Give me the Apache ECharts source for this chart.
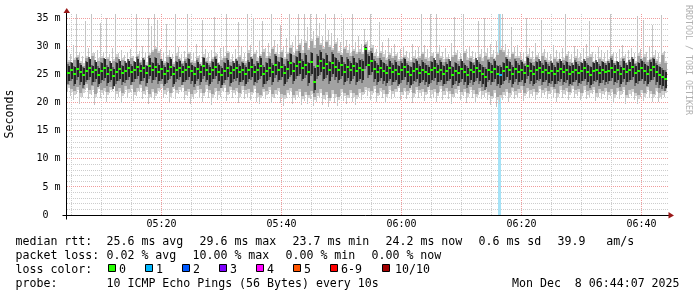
<!DOCTYPE html>
<html><head><meta charset="utf-8">
<script src="https://cdn.jsdelivr.net/npm/echarts@6/dist/echarts.min.js"></script>
<style>html,body{margin:0;padding:0;background:#fff}#c{width:697px;height:297px}</style>
</head><body><div id="c"></div>
<script>
// ---- time layout of the samples ----
const startTime = '05:04:35';
const stepSeconds = 30;
const axisStart = '05:04:20';
const axisEnd = '06:44:40';
const yMaxMs = 35.8;

// ---- ping data (ms), one value per 30 s column ----
const rttMax = [
29.5,28.7,30.2,35.8,29.1,28.4,34.6,29.8,35.8,28.9,29.4,34.2,29.0,35.1,28.6,29.7,35.8,28.8,29.3,28.5,
29.0,29.6,28.4,35.8,29.2,30.1,28.8,35.0,33.6,35.8,34.8,29.5,28.9,34.0,29.3,28.7,35.8,29.9,28.6,29.2,
35.8,29.1,28.8,30.4,28.5,34.7,29.6,28.9,29.3,35.2,28.7,29.8,30.0,35.8,29.0,28.6,29.5,34.3,29.9,28.8,
35.8,30.2,35.0,29.4,31.0,34.6,29.8,30.6,35.8,31.2,30.4,33.8,29.9,31.5,35.8,30.8,32.0,35.8,31.4,35.8,
33.5,35.8,32.8,35.8,34.2,31.8,35.8,33.0,32.4,35.8,31.6,30.8,34.9,31.2,30.5,35.8,30.9,31.8,30.4,33.2,
31.0,35.8,30.2,29.6,34.4,30.8,29.3,31.5,29.8,30.4,28.9,29.6,30.1,29.2,28.8,30.5,29.4,29.9,35.8,30.2,
29.5,35.8,29.0,35.8,30.3,29.1,29.8,28.7,30.6,35.2,29.4,28.9,35.8,29.6,30.0,29.2,28.8,34.6,29.5,35.0,
29.8,30.5,29.3,31.0,35.8,35.8,30.4,29.6,33.5,29.9,30.2,29.1,28.8,35.0,29.7,29.2,30.6,28.9,34.8,29.5,
29.1,28.7,30.3,29.4,28.9,29.8,35.8,29.2,28.6,30.1,29.5,28.8,29.7,30.4,34.5,29.0,28.7,29.9,29.3,28.8,
29.4,35.8,29.0,28.8,29.6,30.2,28.7,29.3,29.8,28.9,35.4,29.5,34.8,29.1,30.0,33.9,29.4,28.8,35.6,29.2];
const rttMin = [
22.0,21.2,20.4,21.6,19.8,21.0,22.2,20.6,21.4,19.6,21.8,20.9,21.3,20.2,21.7,22.1,20.5,21.0,19.9,21.5,
20.8,21.9,20.3,21.2,22.0,20.6,21.4,19.7,21.1,20.4,21.6,22.2,20.9,21.3,20.1,21.8,20.7,21.5,22.0,20.4,
21.2,19.8,20.6,21.7,21.0,20.2,21.9,20.8,19.6,21.4,20.5,21.1,22.0,20.3,21.6,20.9,21.3,19.9,21.5,20.7,
21.0,20.4,21.8,20.1,19.7,21.2,20.6,21.5,19.9,20.8,21.3,20.0,19.5,20.9,21.4,19.8,20.5,21.1,19.6,20.3,
19.8,20.6,19.4,20.2,21.0,19.6,20.4,19.2,20.8,20.0,19.5,21.2,20.3,19.7,20.9,20.1,19.6,21.0,20.4,21.5,
21.2,20.5,21.8,20.2,21.4,20.8,19.9,21.6,20.7,21.1,22.0,20.4,21.3,20.6,21.7,20.0,21.5,20.9,21.2,20.3,
21.6,20.8,21.1,20.2,21.9,20.5,21.3,20.7,19.8,21.0,21.6,20.4,21.2,20.0,21.5,20.8,19.9,21.3,20.6,21.1,
20.4,19.6,20.8,19.3,19.8,20.5,21.2,20.1,21.4,20.6,21.0,21.7,20.3,21.5,20.8,21.2,20.5,21.8,20.9,21.3,
20.7,21.5,21.1,20.2,21.6,20.9,21.3,20.5,21.8,20.8,21.2,20.4,21.7,20.6,21.0,21.5,20.3,21.1,20.7,21.4,
20.5,21.2,20.0,21.3,20.6,21.5,19.8,20.9,21.2,20.4,19.7,21.0,20.3,21.5,20.8,20.1,21.3,20.2,20.6,21.1];
const smokeHigh = [
27.2,26.8,27.6,28.1,27.0,26.6,27.9,27.3,28.4,26.9,27.5,28.0,27.1,27.8,26.7,27.4,28.2,27.0,27.6,26.8,
27.3,27.9,26.9,28.3,27.2,27.7,26.8,28.5,29.0,29.6,28.8,27.4,27.0,28.1,27.5,26.9,28.4,27.6,27.1,27.8,
28.6,27.2,27.0,27.9,26.8,28.2,27.5,27.1,27.7,28.4,26.9,27.6,27.9,28.8,27.3,27.0,27.6,28.1,27.4,27.0,
28.9,28.0,28.6,27.5,28.3,29.1,27.9,28.4,29.5,28.7,28.2,29.0,27.8,28.6,29.8,28.5,29.2,30.2,28.9,30.6,
29.4,31.0,29.8,31.5,30.2,29.5,30.8,29.9,29.3,30.4,28.8,28.5,29.6,28.9,28.4,29.2,28.6,29.1,28.7,30.5,
29.0,29.8,28.4,27.9,28.8,28.2,27.6,28.5,27.9,28.3,27.4,27.8,28.1,27.5,27.2,28.0,27.6,27.9,28.6,27.8,
27.5,28.4,27.2,28.6,27.9,27.3,27.7,27.0,28.1,28.5,27.4,27.1,28.8,27.6,27.9,27.3,27.0,28.2,27.5,28.4,
27.8,28.2,27.6,28.5,29.4,29.0,28.1,27.7,28.6,27.9,28.0,27.4,27.1,28.3,27.7,27.3,28.1,27.0,28.4,27.6,
27.2,26.9,27.8,27.4,27.0,27.6,28.3,27.3,26.8,27.9,27.5,27.0,27.4,28.0,28.2,27.1,26.8,27.7,27.3,27.0,
27.4,28.3,27.1,26.9,27.5,28.0,26.8,27.3,27.7,27.0,28.4,27.6,28.2,27.2,27.8,28.1,27.4,26.9,28.5,27.1];
const smokeLow = [
23.2,22.5,22.0,22.8,21.7,22.4,23.3,22.2,22.9,21.6,23.0,22.3,22.7,21.9,22.8,23.4,22.1,22.6,21.8,22.9,
22.4,23.1,21.9,22.6,23.2,22.1,22.8,21.6,22.5,21.8,22.7,23.3,22.2,22.6,21.7,23.0,22.3,22.8,23.2,22.0,
22.5,21.6,22.2,22.9,22.4,21.8,23.1,22.3,21.5,22.7,22.0,22.6,23.2,21.9,22.8,22.3,22.6,21.7,22.9,22.2,
22.4,21.9,23.0,21.7,21.4,22.5,22.0,22.8,21.6,22.2,22.7,21.5,21.3,22.3,22.6,21.4,22.0,22.5,21.2,21.9,
21.4,22.1,21.0,21.8,22.4,21.3,21.9,20.9,22.2,21.6,21.1,22.5,21.8,21.4,22.3,21.7,21.3,22.4,21.9,22.8,
22.6,22.0,23.0,21.8,22.7,22.2,21.6,22.9,22.1,22.5,23.2,21.9,22.6,22.0,22.9,21.7,22.8,22.3,22.5,21.9,
22.9,22.2,22.5,21.8,23.0,22.0,22.6,22.1,21.6,22.4,22.9,21.9,22.5,21.7,22.8,22.2,21.6,22.6,22.0,22.4,
21.9,21.2,22.3,21.0,21.4,21.9,22.5,21.7,22.6,22.0,22.4,22.9,21.8,22.7,22.2,22.5,21.9,23.0,22.3,22.6,
22.1,22.8,22.4,21.7,22.9,22.2,22.6,21.9,23.0,22.2,22.5,21.8,22.9,22.0,22.3,22.8,21.7,22.4,22.1,22.7,
21.9,22.5,21.5,22.6,22.0,22.8,21.4,22.2,22.5,21.8,21.3,22.3,21.7,22.8,22.1,21.6,22.6,21.7,22.0,22.4];
const coreHigh = [
26.6,27.0,26.3,27.6,26.8,26.1,27.2,27.8,26.5,27.3,26.2,27.0,27.7,26.4,27.1,26.0,27.0,27.4,26.5,27.1,
27.5,26.6,27.2,27.8,26.8,27.6,26.5,28.0,27.0,27.9,26.7,27.4,26.4,27.0,27.8,26.3,27.2,27.5,26.6,27.1,
27.7,26.8,26.3,27.3,26.6,27.9,27.0,26.4,27.2,27.8,26.7,26.2,27.0,27.6,26.5,27.1,27.4,26.6,27.0,26.4,
27.3,27.8,26.6,27.1,28.0,26.4,27.0,27.7,26.8,28.4,27.2,27.9,26.6,27.4,28.6,27.0,28.1,28.9,27.5,28.5,
27.0,28.8,26.2,28.3,29.0,27.7,28.5,27.2,28.7,27.9,27.3,28.2,26.9,27.8,27.1,28.0,27.0,27.6,27.4,30.0,
28.4,28.9,27.4,26.8,27.6,27.0,26.6,27.5,26.8,27.3,26.5,27.1,27.7,26.7,26.3,27.0,27.4,26.6,27.3,26.8,
26.4,27.2,27.6,26.7,27.3,26.5,26.9,27.5,26.3,27.0,26.6,27.4,26.8,26.2,27.2,26.7,27.6,26.9,26.4,26.0,
27.3,26.7,27.4,26.5,26.4,27.0,27.8,27.2,26.4,27.4,26.8,27.3,26.6,27.9,27.0,26.5,27.2,27.5,26.7,27.3,
26.6,27.1,26.4,27.0,27.4,26.7,27.2,26.5,26.8,27.3,26.6,27.0,27.5,26.8,26.3,27.0,27.3,26.6,27.2,26.7,
27.1,27.6,26.7,27.2,26.4,27.4,26.8,27.3,27.8,26.6,27.0,27.5,26.9,26.5,27.3,27.7,26.7,26.3,25.9,25.5];
const coreLow = [
23.8,24.3,23.4,24.5,23.6,23.2,24.1,24.6,23.7,24.2,23.3,24.0,24.4,23.5,24.1,23.0,23.9,24.3,23.6,24.0,
24.5,23.7,24.2,24.7,23.9,24.4,23.5,24.8,24.0,24.6,23.8,24.3,23.4,24.0,24.7,23.3,24.2,24.5,23.7,24.1,
24.6,23.9,23.3,24.3,23.6,24.8,24.1,23.4,24.2,24.7,23.8,23.2,24.0,24.5,23.5,24.2,24.4,23.6,24.1,23.4,
24.2,24.6,23.6,24.0,24.8,23.3,23.9,24.5,23.7,24.9,24.1,24.6,23.4,24.2,25.0,23.8,24.7,25.2,24.3,24.9,
23.5,25.2,22.3,24.7,25.5,24.3,24.9,23.9,25.1,24.5,24.0,24.8,23.6,24.4,23.9,24.7,23.7,24.3,24.0,26.5,
24.9,25.4,24.2,23.6,24.4,23.9,23.5,24.3,23.7,24.1,23.4,24.0,24.5,23.6,23.2,23.9,24.2,23.5,24.1,23.7,
23.3,24.0,24.4,23.6,24.1,23.4,23.8,24.3,23.2,23.9,23.5,24.2,23.7,23.1,24.0,23.6,24.4,23.8,23.3,22.8,
24.1,23.6,24.2,23.4,23.1,23.8,24.5,24.0,23.3,24.2,23.7,24.1,23.5,24.7,23.9,23.4,24.0,24.3,23.6,24.1,
23.5,23.9,23.3,23.8,24.2,23.6,24.0,23.4,23.7,24.1,23.5,23.9,24.3,23.7,23.2,23.8,24.1,23.5,24.0,23.6,
23.9,24.4,23.6,24.0,23.3,24.2,23.7,24.1,24.6,23.5,23.9,24.3,23.8,23.4,24.1,24.5,23.6,23.2,22.9,22.6];
const medianRtt = [
25.3,25.8,25.1,26.0,25.5,24.9,25.7,26.2,25.4,25.9,25.0,25.6,26.1,25.2,25.8,24.8,25.5,26.0,25.3,25.7,
26.2,25.4,25.9,26.4,25.6,26.1,25.3,26.5,25.8,26.3,25.5,26.0,25.2,25.7,26.4,25.1,25.9,26.2,25.4,25.8,
26.3,25.6,25.1,26.0,25.4,26.5,25.8,25.2,25.9,26.4,25.5,25.0,25.7,26.2,25.3,25.9,26.1,25.4,25.8,25.2,
25.9,26.3,25.4,25.8,26.6,25.1,25.7,26.2,25.5,26.8,25.9,26.4,25.3,26.0,27.0,25.6,26.5,27.2,26.1,26.8,
25.4,27.3,23.7,26.6,27.5,26.2,26.9,25.8,27.1,26.4,25.9,26.7,25.5,26.3,25.8,26.6,25.6,26.2,25.9,29.6,
26.8,27.4,26.0,25.4,26.2,25.7,25.3,26.1,25.5,25.9,25.2,25.8,26.3,25.4,25.0,25.7,26.0,25.3,25.9,25.5,
25.1,25.8,26.2,25.4,25.9,25.2,25.6,26.1,25.0,25.7,25.3,26.0,25.5,24.9,25.8,25.4,26.2,25.6,25.1,24.5,
25.9,25.4,26.0,25.2,24.9,25.6,26.3,25.8,25.1,26.0,25.5,25.9,25.3,26.5,25.7,25.2,25.8,26.1,25.4,25.9,
25.3,25.7,25.1,25.6,26.0,25.4,25.8,25.2,25.5,25.9,25.3,25.7,26.1,25.5,25.0,25.6,25.9,25.3,25.8,25.4,
25.7,26.2,25.4,25.8,25.1,26.0,25.5,25.9,26.4,25.3,25.7,26.1,25.6,25.2,25.9,26.3,25.4,25.0,24.6,24.2];
// [column index, pings lost out of 10]
const lossPoints = [[144, 1]];

// ---- axis ticks ----
const xTickLabels = ['05:20', '05:40', '06:00', '06:20', '06:40'];
const yTickValues = [0, 5, 10, 15, 20, 25, 30, 35];
const yTickLabels = ['0  ', '5 m', '10 m', '15 m', '20 m', '25 m', '30 m', '35 m'];

// ---- legend texts ----
const rttStats = ['25.6 ms avg', '29.6 ms max', '23.7 ms min', '24.2 ms now', '0.6 ms sd', '39.9   am/s'];
const lossStats = ['0.02 % avg', '10.00 % max', '0.00 % min', '0.00 % now'];
const lossLabels = ['0', '1', '2', '3', '4', '5', '6-9', '10/10'];
const lossColors = ['#26ff00', '#00b8ff', '#0059ff', '#7e00ff', '#ff00ff', '#ff5500', '#ff0000', '#a10000'];
const probeText = '10 ICMP Echo Pings (56 Bytes) every 10s';
const dateText = 'Mon Dec  8 06:44:07 2025';

// ---------------------------------------------------------------
function hms(s) { const p = s.split(':').map(Number); return p[0] * 3600 + p[1] * 60 + (p[2] || 0); }
const t0 = hms(startTime);
const xMin = hms(axisStart), xMax = hms(axisEnd);
const lossByIdx = {}; lossPoints.forEach(([i, n]) => { lossByIdx[i] = n; });
const rows = medianRtt.map((m, i) => [t0 + i * stepSeconds, rttMin[i], rttMax[i], smokeLow[i], smokeHigh[i], coreLow[i], coreHigh[i], m, lossByIdx[i] || 0]);
const lossRows = rows.filter(r => r[8] > 0);
function lossColor(n) { if (n <= 5) return lossColors[n]; if (n < 10) return lossColors[6]; return lossColors[7]; }

const xMajor = xTickLabels.map(hms);
const xMinor = []; for (let t = Math.ceil(xMin / 300) * 300; t <= xMax; t += 300) if (t % 1200 !== 0) xMinor.push(t);
const yMinor = []; for (let v = 1; v < 36; v++) if (v % 5 !== 0) yMinor.push(v);

const MONO = '"DejaVu Sans Mono", monospace';
const MINOR = '#cdcdcd', MAJOR = '#f09c9c', ARROW = '#9a1818';
const px = v => Math.floor(v) + 0.5;

function gridRender(params, api) {
  const ch = [];
  const left = api.coord([xMin, 0])[0], right = api.coord([xMax, 0])[0];
  const bottom = api.coord([xMin, 0])[1], top = api.coord([xMin, yMaxMs])[1];
  yMinor.forEach(v => { const y = px(api.coord([xMin, v])[1]);
    ch.push({ type: 'line', shape: { x1: left, y1: y, x2: right, y2: y }, style: { stroke: MINOR, lineWidth: 1, lineDash: [1, 1] } }); });
  xMinor.forEach(t => { const x = px(api.coord([t, 0])[0]);
    ch.push({ type: 'line', shape: { x1: x, y1: top, x2: x, y2: bottom }, style: { stroke: MINOR, lineWidth: 1, lineDash: [1, 1] } }); });
  yTickValues.forEach(v => { if (v === 0) return; const y = px(api.coord([xMin, v])[1]);
    ch.push({ type: 'line', shape: { x1: left, y1: y, x2: right, y2: y }, style: { stroke: MAJOR, lineWidth: 1, lineDash: [1, 1] } }); });
  xMajor.forEach(t => { const x = px(api.coord([t, 0])[0]);
    ch.push({ type: 'line', shape: { x1: x, y1: top, x2: x, y2: bottom }, style: { stroke: MAJOR, lineWidth: 1, lineDash: [1, 1] } }); });
  return { type: 'group', children: ch };
}

function axesRender(params, api) {
  const ch = [];
  const left = api.coord([xMin, 0])[0], right = api.coord([xMax, 0])[0];
  const bottom = api.coord([xMin, 0])[1], top = api.coord([xMin, yMaxMs])[1];
  const ax = px(left - 1), ay = px(bottom);
  ch.push({ type: 'line', shape: { x1: ax - 4, y1: ay, x2: right, y2: ay }, style: { stroke: '#000', lineWidth: 1 } });
  ch.push({ type: 'line', shape: { x1: ax, y1: ay + 4, x2: ax, y2: top - 2 }, style: { stroke: '#000', lineWidth: 1 } });
  ch.push({ type: 'polygon', shape: { points: [[ax - 3, top - 1], [ax + 3.5, top - 1], [ax + 0.25, top - 6]] }, style: { fill: ARROW } });
  ch.push({ type: 'polygon', shape: { points: [[right - 0.5, ay - 3.5], [right - 0.5, ay + 3], [right + 5, ay]] }, style: { fill: ARROW } });
  yTickValues.forEach((v, i) => { const y = api.coord([xMin, v])[1];
    ch.push({ type: 'text', style: { x: left - 6.5, y: y, text: yTickLabels[i], font: '10px ' + MONO, fill: '#000', align: 'right', verticalAlign: 'middle' } }); });
  xMajor.forEach((t, i) => { const x = api.coord([t, 0])[0];
    ch.push({ type: 'text', style: { x: x + 0.5, y: bottom + 9.5, text: xTickLabels[i], font: '10px ' + MONO, fill: '#000', align: 'center', verticalAlign: 'middle' } }); });
  return { type: 'group', children: ch };
}

function colBounds(api, t) {
  return [Math.round(api.coord([t - stepSeconds / 2, 0])[0]), Math.round(api.coord([t + stepSeconds / 2, 0])[0])];
}
function band(api, x, w, t, lo, hi, color) {
  const y1 = Math.round(api.coord([t, hi])[1]), y2 = Math.round(api.coord([t, lo])[1]);
  return { type: 'rect', shape: { x: x, y: y1, width: w, height: Math.max(1, y2 - y1) }, style: { fill: color } };
}
// smoke: extremes drawn as thin hair lines, inner quantiles wider and darker
function smokeRender(params, api) {
  const t = api.value(0); const [xl, xr] = colBounds(api, t);
  const w = xr - xl;
  return { type: 'group', children: [
    band(api, xl, 1, t, api.value(1), api.value(2), '#c4c4c4'),
    band(api, xl + 1, w - 1, t, api.value(3) - 0.6, api.value(4) + 0.4, '#d2d2d2'),
    band(api, xl, w, t, api.value(3), api.value(4), '#a2a2a2'),
    band(api, xl, 2, t, api.value(5) - 0.5, api.value(6) + 0.3, '#6a6a6a'),
    band(api, xl + 1, w - 1, t, api.value(5), api.value(6), '#262626')
  ] };
}
function medianRender(params, api) {
  const t = api.value(0); const [xl, xr] = colBounds(api, t);
  const y = Math.round(api.coord([t, api.value(7)])[1]);
  return { type: 'rect', shape: { x: xl, y: y - 1, width: xr - xl, height: 2 }, style: { fill: lossColor(api.value(8)) } };
}
function lossRender(params, api) {
  const t = api.value(0); const [xl, xr] = colBounds(api, t);
  const y1 = api.coord([t, yMaxMs])[1], y2 = api.coord([t, 0])[1];
  return { type: 'rect', shape: { x: xl - 1, y: y1, width: xr - xl, height: y2 - y1 }, style: { fill: '#a6e3f7' } };
}

const graphics = [];
function txt(x, y, s, extra) { graphics.push(Object.assign({ type: 'text', x: x, y: y, style: { text: s, font: '11.6px ' + MONO, fill: '#000', textAlign: 'left', textVerticalAlign: 'middle', align: 'left', verticalAlign: 'middle' } }, extra || {})); }
const rowY = [241.5, 255.5, 269.5, 283.5];
const rttX = [106.5, 199.5, 292.5, 385.5, 478.5, 557.5];
const lossX = [106.5, 192.5, 285.5, 371.5];
txt(15.5, rowY[0], 'median rtt:');
rttStats.forEach((s, i) => txt(rttX[i], rowY[0], s));
txt(15.5, rowY[1], 'packet loss:');
lossStats.forEach((s, i) => txt(lossX[i], rowY[1], s));
txt(15.5, rowY[2], 'loss color:');
const boxX = [108, 145, 182, 219, 256, 293, 330, 382];
lossLabels.forEach((s, i) => {
  graphics.push({ type: 'rect', shape: { x: boxX[i] + 0.5, y: 264.5, width: 7, height: 7 }, style: { fill: lossColors[i], stroke: '#000', lineWidth: 1 } });
  txt(boxX[i] + (i === 7 ? 13 : 11), rowY[2], s);
});
txt(15.5, rowY[3], 'probe:');
txt(106.5, rowY[3], probeText);
txt(512, rowY[3], dateText);
graphics.push({ type: 'text', x: 10, y: 114, rotation: Math.PI / 2, style: { text: 'Seconds', font: '11.6px ' + MONO, fill: '#000', textAlign: 'center', textVerticalAlign: 'middle', align: 'center', verticalAlign: 'middle' } });
graphics.push({ type: 'text', x: 688, y: 60, rotation: -Math.PI / 2, style: { text: 'RRDTOOL / TOBI OETIKER', font: '8.3px ' + MONO, fill: '#b0b0b0', textAlign: 'center', textVerticalAlign: 'middle', align: 'center', verticalAlign: 'middle' } });

const chart = echarts.init(document.getElementById('c'), null, { renderer: 'canvas' });
chart.setOption({
  animation: false,
  backgroundColor: '#ffffff',
  grid: { left: 67, right: 28, top: 14, bottom: 82 },
  xAxis: { type: 'value', min: xMin, max: xMax, show: false },
  yAxis: { type: 'value', min: 0, max: yMaxMs, show: false },
  graphic: graphics,
  series: [
    { type: 'custom', name: 'grid', silent: true, data: [[xMin, 0]], renderItem: gridRender, z: 1 },
    { type: 'custom', name: 'loss', silent: true, data: lossRows, renderItem: lossRender, clip: true, z: 2 },
    { type: 'custom', name: 'smoke', silent: true, data: rows, renderItem: smokeRender, clip: true, z: 3 },
    { type: 'custom', name: 'median', silent: true, data: rows, renderItem: medianRender, clip: true, z: 4 },
    { type: 'custom', name: 'axes', silent: true, data: [[xMin, 0]], renderItem: axesRender, z: 5 }
  ]
});
</script>
</body></html>
